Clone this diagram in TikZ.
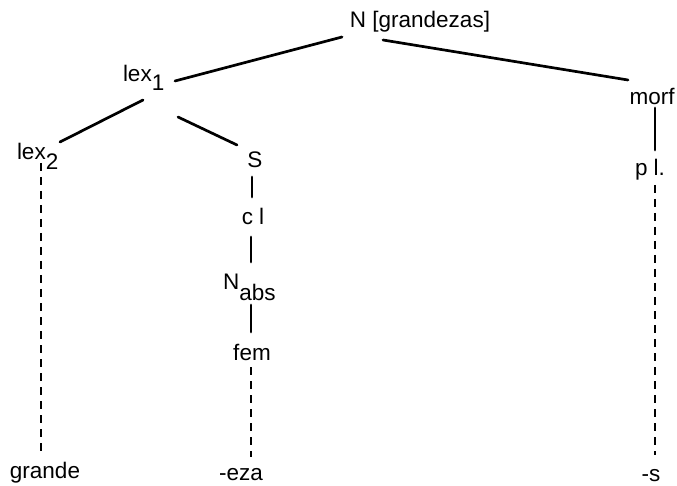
\documentclass[tikz,border=0pt]{standalone}
\usepackage{fontspec}
\setmainfont{Liberation Sans}
\begin{document}
\begin{tikzpicture}[x=1pt,y=-1pt,
  lbl/.style={inner sep=0pt,outer sep=0pt,font=\fontsize{22.5}{26}\selectfont,anchor=base},
  lblw/.style={lbl,anchor=base west},
  solidedge/.style={line width=2.7pt,line cap=round},
  dashedge/.style={line width=1.8pt,dash pattern=on 8pt off 6pt}]
\useasboundingbox (0,0) rectangle (677,486);
% nodes
\node[lbl]  (top)  at (420,28)  {N [grandezas]};
\node[lblw] (lexa) at (123,82)  {lex\raisebox{-9pt}{1}};
\node[lbl]  (morf) at (652,105) {morf};
\node[lblw] (lexb) at (17,160)  {lex\raisebox{-10pt}{2}};
\node[lbl]  (S)    at (255,168) {S};
\node[lbl]  (pl)   at (650,176) {p l.};
\node[lbl]  (cl)   at (253,225) {c l};
\node[lblw] (Nabs) at (223,290) {N\raisebox{-10pt}{abs}};
\node[lbl]  (fem)  at (252,360) {fem};
\node[lbl]  (grande) at (45,478) {grande};
\node[lbl]  (eza)  at (241,480) {-eza};
\node[lbl]  (s)    at (651,481) {-s};
% connector end points
\coordinate (t1) at (342,37);  \coordinate (a1) at (175,81);
\coordinate (t2) at (383,40);  \coordinate (m1) at (628,80);
\coordinate (a2) at (143,100); \coordinate (b1) at (60,142);
\coordinate (a3) at (178,117); \coordinate (s1) at (237,145);
\coordinate (m2) at (655,108); \coordinate (p1) at (655,150);
\coordinate (s2) at (252,177); \coordinate (c1) at (252,197);
\coordinate (c2) at (251,237); \coordinate (n1) at (251,262);
\coordinate (n2) at (251,305); \coordinate (f1) at (251,332);
\coordinate (b2) at (41,163);  \coordinate (g1) at (41,455);
\coordinate (f2) at (251,367); \coordinate (e1) at (251,457);
\coordinate (p2) at (655,185); \coordinate (z1) at (655,455);
% solid edges
\draw[solidedge] (t1) -- (a1);
\draw[solidedge] (t2) -- (m1);
\draw[solidedge] (a2) -- (b1);
\draw[solidedge] (a3) -- (s1);
\draw[solidedge] (m2) -- (p1);
\draw[solidedge] (s2) -- (c1);
\draw[solidedge] (c2) -- (n1);
\draw[solidedge] (n2) -- (f1);
% dashed edges
\draw[dashedge] (b2) -- (g1);
\draw[dashedge] (f2) -- (e1);
\draw[dashedge] (p2) -- (z1);
\end{tikzpicture}
\end{document}
